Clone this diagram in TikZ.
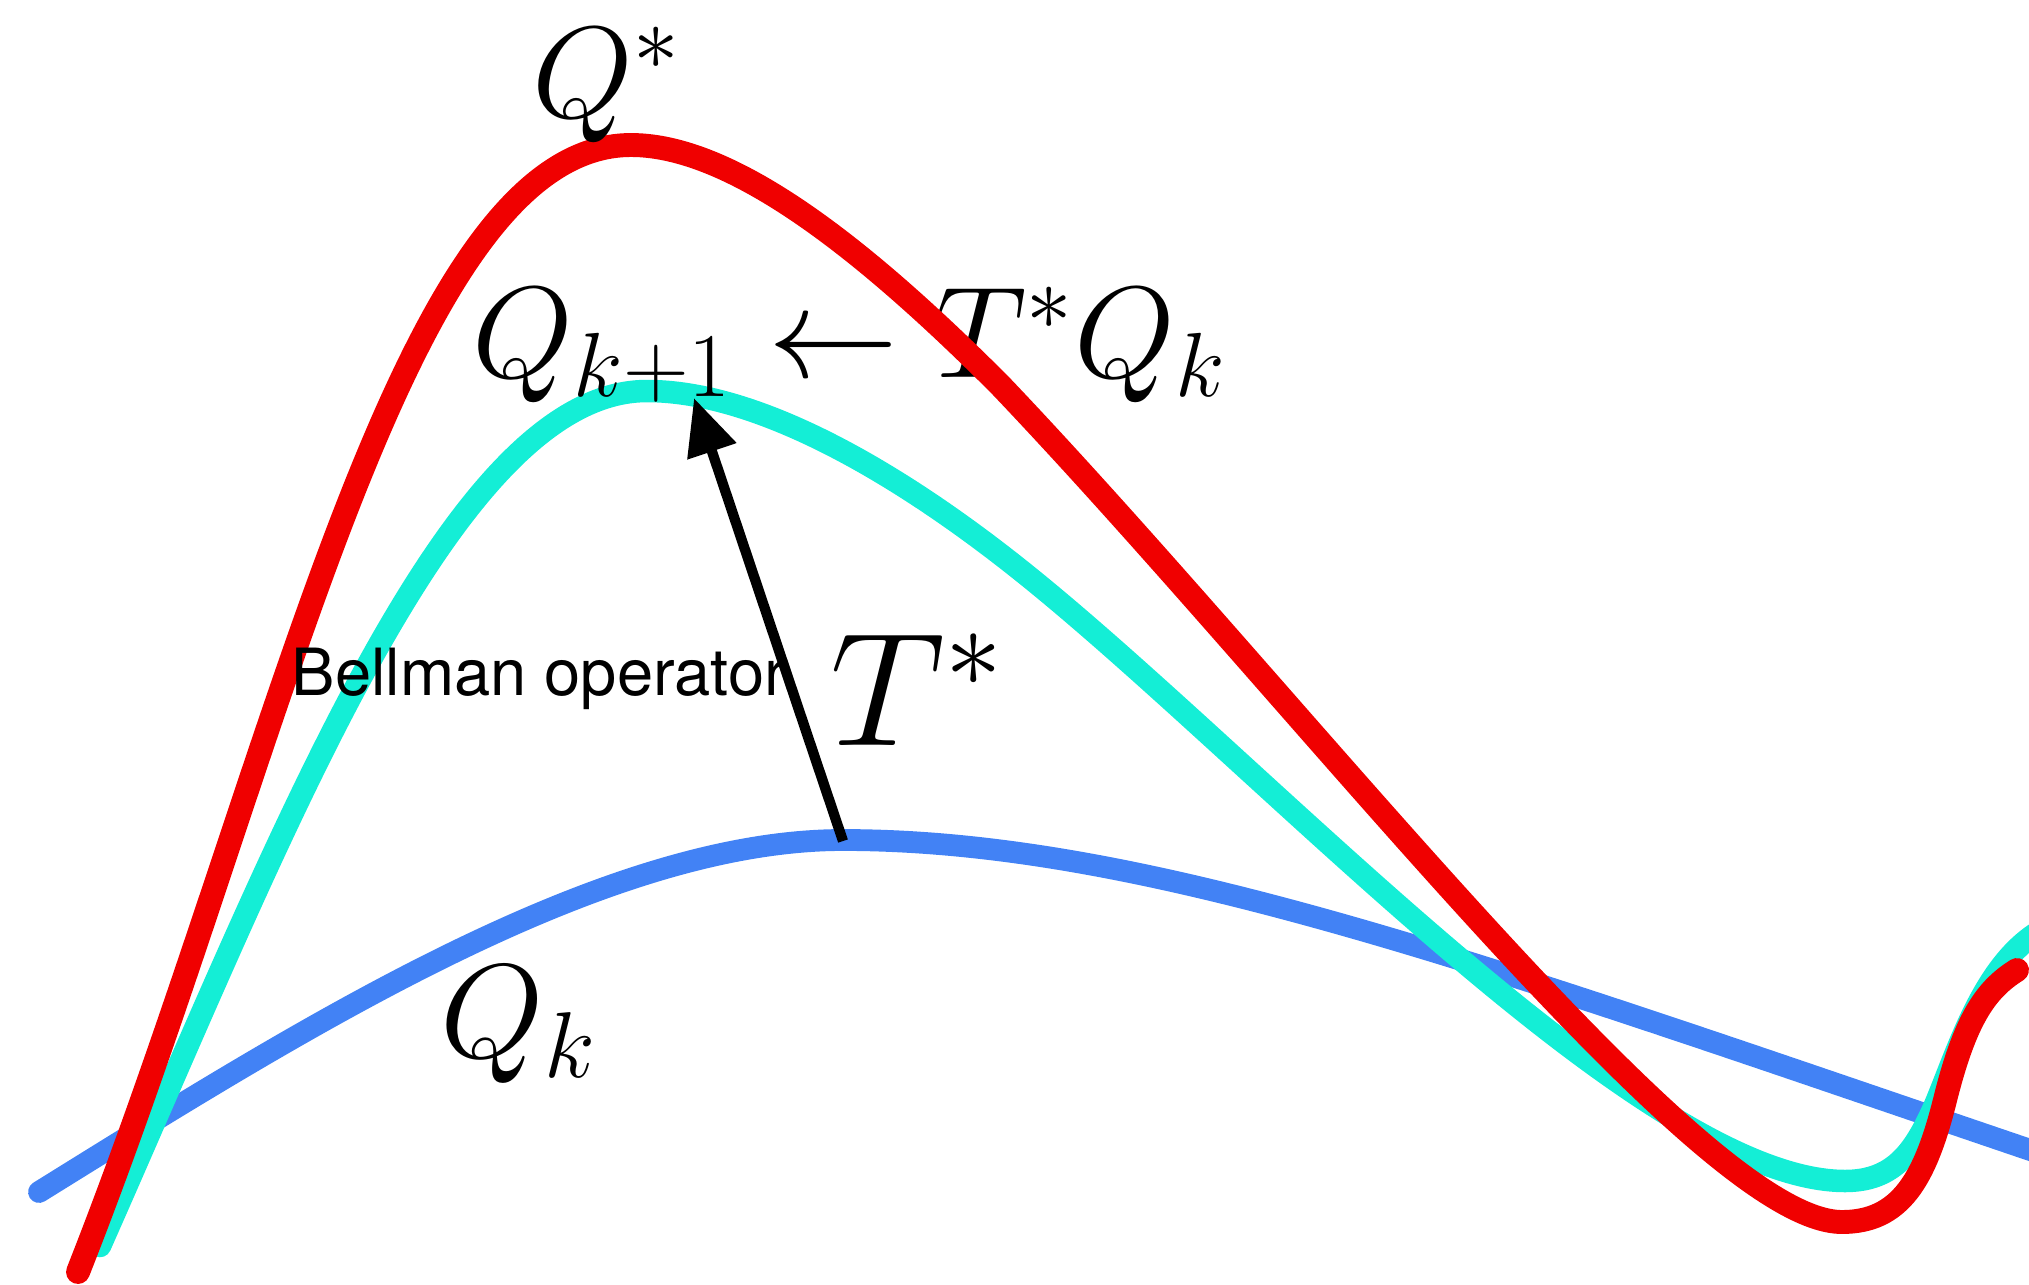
\documentclass[tikz,border=0pt]{standalone}
\usepackage{fix-cm}
\usepackage{fontspec}
\newfontfamily\helv{TeX Gyre Heros}
\usetikzlibrary{arrows.meta}
\definecolor{qstar}{RGB}{240,0,0}
\definecolor{qnext}{RGB}{20,238,214}
\definecolor{qcur}{RGB}{66,130,245}
\begin{document}
\begin{tikzpicture}[x=0.01cm,y=-0.01cm,
  curve/.style={line cap=round,line join=round},
  mathlbl/.style={inner sep=0pt,anchor=base west,font=\fontsize{37}{40}\selectfont},
]
\useasboundingbox (0,0) rectangle (2029,1284);
% Q_k (blue)
\draw[curve,qcur,line width=6.2pt]
  (39,1192) .. controls (300,1030) and (600,840) .. (843,840)
            .. controls (1150,840) and (1500,970) .. (2045,1155);
% Q_{k+1} (cyan)
\draw[curve,qnext,line width=6.4pt]
  (100,1246) .. controls (280,840) and (450,391) .. (647,391)
             .. controls (760,391) and (900,475) .. (1014,565)
             .. controls (1250,751) and (1640,1181) .. (1845,1181)
             .. controls (1895,1181) and (1915,1150) .. (1935,1105)
             .. controls (1960,1045) and (1985,960) .. (2045,928);
\node[mathlbl] (lupdate) at (472,377) {$Q_{k+1}\leftarrow T^*Q_k$};
% Q* (red)
\draw[curve,qstar,line width=6.8pt]
  (78,1272) .. controls (280,760) and (400,145) .. (631,145)
            .. controls (740,145) and (880,265) .. (1000,385)
            .. controls (1300,700) and (1700,1222) .. (1842,1222)
            .. controls (1900,1222) and (1925,1180) .. (1945,1100)
            .. controls (1965,1020) and (1985,990) .. (2017,970);
\coordinate (qkpeak) at (843,841);
\coordinate (qnpeak) at (694,398);
\draw[-{Triangle[length=16pt,width=14pt]},line width=2.9pt] (qkpeak) -- (qnpeak);
\node[mathlbl] (lqstar) at (532,117) {$Q^*$};
\node[mathlbl,font=\fontsize{38}{40}\selectfont] (lqk) at (440,1057) {$Q_k$};
\node[mathlbl,font=\fontsize{46}{50}\selectfont] (ltstar) at (830,745) {$T^*$};
\node[inner sep=0pt,anchor=base west,font=\helv\fontsize{18.5}{22}\selectfont] (lbell) at (291,695) {Bellman operator};
\end{tikzpicture}
\end{document}
